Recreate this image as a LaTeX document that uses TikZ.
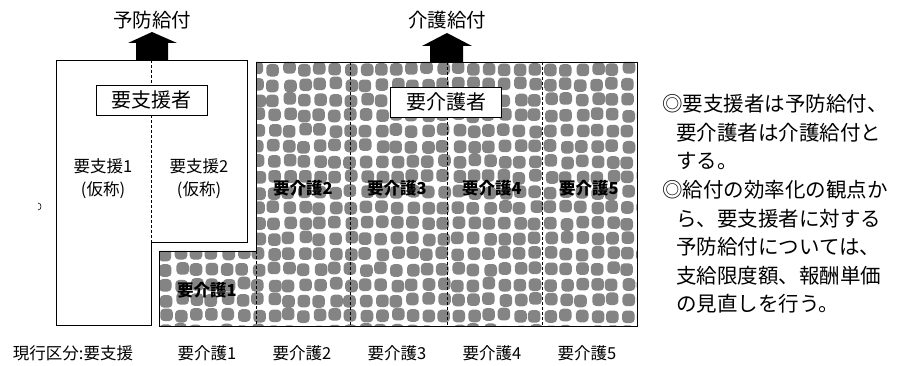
\documentclass[tikz,border=0pt]{standalone}
\usepackage{fontspec}
\setmainfont{Noto Sans CJK JP}
\definecolor{blobgray}{RGB}{132,132,132}
\begin{document}
\begin{tikzpicture}[x=1pt,y=-1pt,
  title/.style={font=\fontsize{19.5pt}{22pt}\selectfont, inner sep=0pt},
  groupbox/.style={draw, line width=0.8pt, fill=white, minimum width=111pt, minimum height=30pt, inner sep=0pt, font=\fontsize{20pt}{22pt}\selectfont},
  lab/.style={font=\fontsize{16.5pt}{23pt}\selectfont, inner sep=0pt, align=center},
  hlab/.style={font=\fontsize{16.5pt}{23pt}\selectfont\bfseries, inner sep=0pt, align=center},
  note/.style={font=\fontsize{20.5pt}{22pt}\selectfont, inner sep=0pt, anchor=west},
  outline/.style={draw, line width=0.9pt},
  divider/.style={dashed, dash pattern=on 3pt off 2pt, line width=0.7pt},
  blockarrow/.style={fill=black}
]
\useasboundingbox (0,0) rectangle (897,366);
\fill[white] (0,0) rectangle (897,366);

% ---- patterned region (要介護者) ----
\begin{scope}
\clip (159,251) -- (256,251) -- (256,62) -- (637,62) -- (637,326) -- (159,326) -- cycle;
\fill[white] (150,50) rectangle (650,340);
\pgfmathsetseed{7}
\foreach \i in {0,...,31} {
  \foreach \j in {0,...,17} {
    \pgfmathsetmacro\cx{159+7+\i*15.4+rand*1.6}
    \pgfmathsetmacro\cy{62+7+\j*15.4+rand*1.6}
    \fill[blobgray, rounded corners=4pt] (\cx-6.3,\cy-6.3) rectangle (\cx+6.3,\cy+6.3);
  }
}
\end{scope}
\draw[outline] (159,251) -- (256,251) -- (256,62) -- (637,62) -- (637,326) -- (159,326) -- cycle;
\foreach \xx/\ya in {256/251, 350/62, 447/62, 542/62} {
  \draw[divider] (\xx,\ya) -- (\xx,326);
}

% ---- white region (要支援者) ----
\draw[outline, fill=white] (56,60) -- (247,60) -- (247,242) -- (151,242) -- (151,325) -- (56,325) -- cycle;
\draw[divider] (151.5,60) -- (151.5,242);

% ---- block arrows ----
\fill[blockarrow] (136,60) -- (136,43) -- (128,43) -- (152,32) -- (177,43) -- (168,43) -- (168,60) -- cycle;
\fill[blockarrow] (430,62) -- (430,46) -- (422,46) -- (447,33) -- (472,46) -- (463,46) -- (463,62) -- cycle;

% ---- titles ----
\node[title] (yobo) at (152,20) {予防給付};
\node[title] (kaigo) at (447,20) {介護給付};

% ---- group boxes ----
\node[groupbox] (shien) at (151.5,100) {要支援者};
\node[groupbox] (kaigosha) at (446,102) {要介護者};

% ---- inner labels ----
\node[lab] (s1) at (103,179) {要支援1\\(仮称)};
\node[lab] (s2) at (199,179) {要支援2\\(仮称)};
\node[hlab] (k1) at (207,290) {要介護1};
\node[hlab] (k2) at (303,188) {要介護2};
\node[hlab] (k3) at (397,188) {要介護3};
\node[hlab] (k4) at (492,188) {要介護4};
\node[hlab] (k5) at (589,188) {要介護5};

% ---- bottom row ----
\node[lab] (b0) at (73,353) {現行区分:要支援};
\node[lab] (b1) at (207,353) {要介護1};
\node[lab] (b2) at (302,353) {要介護2};
\node[lab] (b3) at (397,353) {要介護3};
\node[lab] (b4) at (492,353) {要介護4};
\node[lab] (b5) at (587,353) {要介護5};

% ---- notes ----
\node[note] (n1) at (662,104) {◎要支援者は予防給付、};
\node[note] (n2) at (676,133) {要介護者は介護給付と};
\node[note] (n3) at (676,161) {する。};
\node[note] (n4) at (662,190) {◎給付の効率化の観点か};
\node[note] (n5) at (676,219) {ら、要支援者に対する};
\node[note] (n6) at (676,247) {予防給付については、};
\node[note] (n7) at (676,276) {支給限度額、報酬単価};
\node[note] (n8) at (676,304) {の見直しを行う。};

% ---- stray mark ----
\draw[line width=0.6pt] (38,203) .. controls (42,203) and (42,210) .. (38,210);
\end{tikzpicture}
\end{document}
